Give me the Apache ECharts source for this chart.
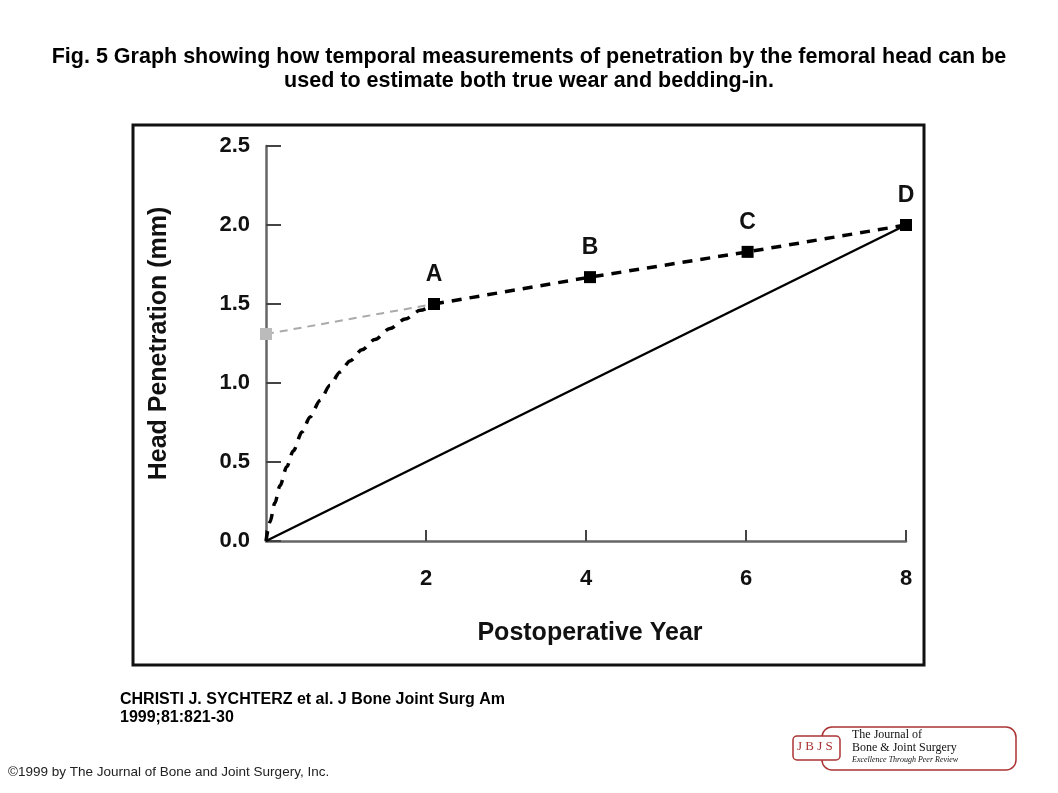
<!DOCTYPE html>
<html>
<head>
<meta charset="utf-8">
<script src="https://cdn.jsdelivr.net/npm/echarts@6/dist/echarts.min.js"></script>
<style>
html,body{margin:0;padding:0;background:#fff;}
#chart{width:1058px;height:793px;}
</style>
</head>
<body>
<div id="chart"></div>
<script>
// ---- data ----
const xTicks = [0, 2, 4, 6, 8];
const yTicks = [0.0, 0.5, 1.0, 1.5, 2.0, 2.5];
const pointYears = [2.1, 4.05, 6.02, 8.0];
const pointPenetration = [1.5, 1.67, 1.83, 2.0];
const pointLabels = ['A', 'B', 'C', 'D'];
// bedding-in curve (origin up to point A)
const beddingYears = [0, 0.05, 0.11, 0.175, 0.26, 0.34, 0.45, 0.55, 0.675, 0.8, 0.925, 1.05, 1.2, 1.36, 1.55, 1.74, 1.93, 2.1];
const beddingPenetration = [0, 0.12, 0.24, 0.35, 0.47, 0.57, 0.69, 0.785, 0.89, 0.985, 1.07, 1.14, 1.21, 1.275, 1.345, 1.405, 1.46, 1.5];
// true wear line
const wearYears = [0, 8];
const wearPenetration = [0, 2.0];
// back-extrapolated line to intercept
const extrapYears = [0, 2.1];
const extrapPenetration = [1.31, 1.5];

const titleText = 'Fig. 5 Graph showing how temporal measurements of penetration by the femoral head can be\nused to estimate both true wear and bedding-in.';
const citationText = 'CHRISTI J. SYCHTERZ et al. J Bone Joint Surg Am\n1999;81:821-30';
const copyrightText = '\u00A91999 by The Journal of Bone and Joint Surgery, Inc.';

const zip = (xs, ys) => xs.map((x, i) => [x, ys[i]]);

const chart = echarts.init(document.getElementById('chart'));
const FONT = '"Liberation Sans", Arial, Helvetica, sans-serif';
const SERIF = '"Liberation Serif", "DejaVu Serif", serif';

chart.setOption({
  backgroundColor: '#fff',
  animation: false,
  grid: { left: 266, right: 152, top: 146, bottom: 252, containLabel: false },
  xAxis: {
    type: 'value', min: 0, max: 8, interval: 2,
    name: 'Postoperative Year', nameLocation: 'middle', nameGap: 80,
    nameTextStyle: { fontFamily: FONT, fontSize: 25, fontWeight: 'bold', color: '#111', padding: [0, 0, 0, 8] },
    axisLine: { lineStyle: { color: '#666', width: 2.5 } },
    axisTick: { inside: true, length: 11, lineStyle: { color: '#444', width: 2 } },
    axisLabel: {
      margin: 27, fontFamily: FONT, fontSize: 22, fontWeight: 'bold', color: '#111',
      formatter: v => (v === 0 ? '' : String(v))
    },
    splitLine: { show: false }
  },
  yAxis: {
    type: 'value', min: 0, max: 2.5, interval: 0.5,
    name: 'Head Penetration (mm)', nameLocation: 'middle', nameGap: 94, nameRotate: 90,
    nameTextStyle: { fontFamily: FONT, fontSize: 25, fontWeight: 'bold', color: '#111' },
    axisLine: { lineStyle: { color: '#666', width: 2.5 } },
    axisTick: { inside: true, length: 15, lineStyle: { color: '#444', width: 2 } },
    axisLabel: {
      margin: 16, fontFamily: FONT, fontSize: 22, fontWeight: 'bold', color: '#111',
      formatter: v => v.toFixed(1)
    },
    splitLine: { show: false }
  },
  series: [
    {
      name: 'true wear', type: 'line', data: zip(wearYears, wearPenetration),
      symbol: 'none', lineStyle: { color: '#000', width: 2.5 }, z: 2
    },
    {
      name: 'extrapolation', type: 'line', data: zip(extrapYears, extrapPenetration),
      symbol: 'rect', symbolSize: 12, showSymbol: true,
      itemStyle: { color: '#bbb' },
      lineStyle: { color: '#aaa', width: 2, type: [8, 6] }, z: 3
    },
    {
      name: 'bedding-in', type: 'line', data: zip(beddingYears, beddingPenetration),
      smooth: 0.3, smoothMonotone: 'x', symbol: 'none',
      lineStyle: { color: '#000', width: 3.5, type: [10, 8] }, z: 4
    },
    {
      name: 'measurements', type: 'line', data: zip(pointYears, pointPenetration),
      symbol: 'rect', symbolSize: 12,
      itemStyle: { color: '#000' },
      lineStyle: { color: '#000', width: 3.5, type: [10, 8] },
      label: {
        show: true, position: 'top', distance: 12,
        formatter: p => pointLabels[p.dataIndex],
        fontFamily: FONT, fontSize: 23, fontWeight: 'bold', color: '#111'
      },
      z: 5
    }
  ],
  graphic: [
    { type: 'text', x: 529, y: 45,
      style: { text: titleText, font: 'bold 21.5px ' + FONT, fill: '#000', lineHeight: 24, align: 'center' } },
    { type: 'rect', shape: { x: 133, y: 125, width: 791, height: 540 },
      style: { fill: 'none', stroke: '#111', lineWidth: 3 }, z: -1 },
    { type: 'text', x: 120, y: 691,
      style: { text: citationText, font: 'bold 16px ' + FONT, fill: '#000', lineHeight: 18 } },
    { type: 'text', x: 8, y: 765,
      style: { text: copyrightText, font: '13.5px ' + FONT, fill: '#222' } },
    { type: 'rect', shape: { x: 822, y: 727, width: 194, height: 43, r: 10 },
      style: { fill: '#fff', stroke: '#a33', lineWidth: 1.5 } },
    { type: 'rect', shape: { x: 793, y: 736, width: 47, height: 24, r: 4 },
      style: { fill: '#fff', stroke: '#a33', lineWidth: 1.5 } },
    { type: 'text', x: 797, y: 740,
      style: { text: 'J B J S', font: '13px ' + SERIF, fill: '#a33' } },
    { type: 'text', x: 852, y: 728,
      style: { text: 'The Journal of\nBone & Joint Surgery', font: '12px ' + SERIF, fill: '#111', lineHeight: 13 } },
    { type: 'text', x: 852, y: 756,
      style: { text: 'Excellence Through Peer Review', font: 'italic 8px ' + SERIF, fill: '#111' } }
  ]
});
</script>
</body>
</html>
